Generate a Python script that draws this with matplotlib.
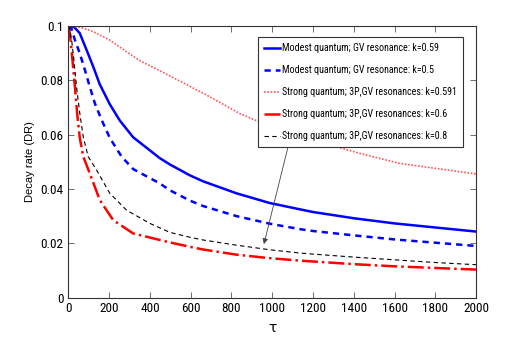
import matplotlib
matplotlib.use('Agg')
import matplotlib.pyplot as plt
from matplotlib import font_manager

# values
tau_modest = [0, 30, 56, 89, 122, 154, 203, 252, 318, 449, 498, 596, 661, 824, 988, 1135, 1200, 1400, 1600, 1800, 2000]
modest_059 = [0.1, 0.0995, 0.0973, 0.0912, 0.085, 0.0785, 0.0712, 0.0652, 0.0590, 0.0513, 0.049, 0.0450, 0.0428, 0.0384, 0.0348, 0.0325, 0.0315, 0.0292, 0.0273, 0.0258, 0.0243]
tau_modest2 = [0, 15, 32, 56, 81, 105, 130, 163, 203, 261, 318, 449, 498, 596, 661, 824, 988, 1135, 1200, 1400, 1600, 1800, 2000]
modest_05 = [0.1, 0.099, 0.0948, 0.0899, 0.0838, 0.0776, 0.0715, 0.0654, 0.0588, 0.0519, 0.0473, 0.042, 0.0395, 0.0357, 0.0337, 0.0300, 0.0272, 0.0252, 0.0245, 0.0229, 0.0214, 0.0202, 0.019]
tau_strong1 = [0, 60, 122, 203, 285, 351, 514, 677, 840, 1028, 1429, 1625, 2000]
strong_0591 = [0.1, 0.0995, 0.0979, 0.0948, 0.0905, 0.0872, 0.0810, 0.0746, 0.0678, 0.0617, 0.0531, 0.0494, 0.0455]
tau_strong2 = [0, 6, 12, 20, 32, 43, 56, 73, 105, 154, 220, 318, 449, 498, 596, 661, 824, 988, 1135, 1400, 1600, 1800, 2000]
strong_06 = [0.1, 0.098, 0.0936, 0.0875, 0.0776, 0.0678, 0.0588, 0.0519, 0.0457, 0.0359, 0.0285, 0.0236, 0.0212, 0.0203, 0.0187, 0.0177, 0.0158, 0.0145, 0.0136, 0.0123, 0.0115, 0.0109, 0.0103]
tau_strong3 = [0, 7, 16, 27, 40, 56, 73, 97, 138, 203, 285, 400, 498, 596, 661, 824, 988, 1135, 1200, 1400, 1600, 1800, 2000]
strong_08 = [0.1, 0.0985, 0.0948, 0.0875, 0.0776, 0.0678, 0.0592, 0.0519, 0.047, 0.0384, 0.0322, 0.0273, 0.0240, 0.0222, 0.0212, 0.0193, 0.0176, 0.0164, 0.016, 0.0149, 0.0139, 0.0129, 0.0121]

labels = ['Modest quantum; GV resonance: k=0.59',
          'Modest quantum; GV resonance: k=0.5',
          'Strong quantum; 3P,GV resonances: k=0.591',
          'Strong quantum; 3P,GV resonances: k=0.6',
          'Strong quantum; 3P,GV resonances: k=0.8']

# look for a condensed sans face, the reference uses narrow Helvetica
names = sorted({f.name for f in font_manager.fontManager.ttflist})
narrow_name = None
for key in ['Liberation Sans Narrow', 'Arial Narrow', 'DejaVu Sans Condensed', 'Roboto Condensed',
            'Open Sans Condensed', 'Noto Sans Condensed']:
    if key in names:
        narrow_name = key
        break
if narrow_name is None:
    for n in names:
        if 'Narrow' in n or 'Condensed' in n:
            narrow_name = n
            break
narrow = [narrow_name, 'DejaVu Sans'] if narrow_name else ['Liberation Sans', 'DejaVu Sans']
fsize = 7.2 if narrow_name else 6.2

fig = plt.figure(figsize=(5.26, 3.46), dpi=100)
ax = fig.add_axes([0.130, 0.140, 0.775, 0.785])

ax.plot(tau_modest, modest_059, color='#0000ff', lw=1.8, ls='-', label=labels[0])
ax.plot(tau_modest2, modest_05, color='#0000ff', lw=1.8, ls=(0, (2.5, 2)), label=labels[1])
ax.plot(tau_strong1, strong_0591, color='#ff5555', lw=1.2, ls=(0, (1, 1)), label=labels[2])
ax.plot(tau_strong2, strong_06, color='#ff0000', lw=1.8, ls='-.', label=labels[3])
ax.plot(tau_strong3, strong_08, color='black', lw=0.8, ls=(0, (4, 3)), label=labels[4])

ax.set_xlim(0, 2000)
ax.set_ylim(0, 0.1)
ax.set_xticks(range(0, 2001, 200))
ax.set_yticks([0, 0.02, 0.04, 0.06, 0.08, 0.1])
ax.set_yticklabels(['0', '0.02', '0.04', '0.06', '0.08', '0.1'])
ax.tick_params(direction='in', top=True, right=True, length=4, width=0.6,
               labelsize=9.5, colors='#555555', labelcolor='black')
for lab in ax.get_xticklabels() + ax.get_yticklabels():
    lab.set_family(narrow)
for s in ax.spines.values():
    s.set_linewidth(0.8)
    s.set_color('#333333')

ax.set_xlabel('τ', fontsize=10)
ax.set_ylabel('Decay rate (DR)', fontsize=8, family=['Liberation Sans', 'DejaVu Sans'])

leg = ax.legend(loc='upper right', bbox_to_anchor=(0.972, 0.965), fancybox=False,
                framealpha=1, edgecolor='#333333', prop={'family': narrow, 'size': fsize},
                handlelength=1.6, handletextpad=0.2, labelspacing=1.2,
                borderpad=0.6, borderaxespad=0.2)
leg.get_frame().set_linewidth(0.8)

ax.annotate('', xy=(956, 0.0187), xytext=(1083, 0.0571),
            arrowprops=dict(arrowstyle='-|>', color='#444444', lw=0.6,
                            mutation_scale=8))

fig.savefig('out.png', dpi=100)
